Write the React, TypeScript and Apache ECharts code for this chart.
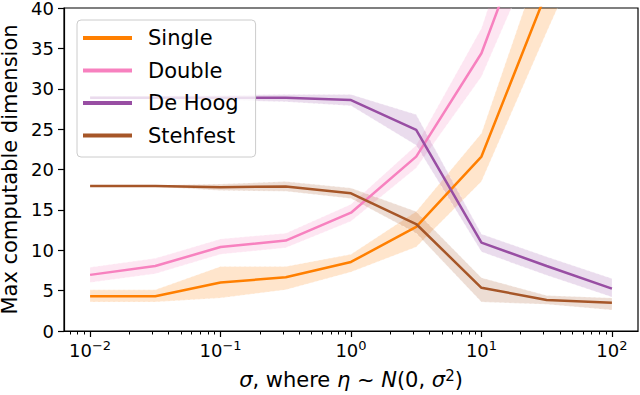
import { useEffect, useRef } from "react";
import * as echarts from "echarts";

const sigmaValues = [0.01, 0.0316, 0.1, 0.316, 1, 3.16, 10, 31.6, 100];

const seriesNames = ["Single", "Double", "De Hoog", "Stehfest"];
const seriesColors = ["#ff7f00", "#f781bf", "#984ea3", "#a65628"];

const singleMean = [4.3, 4.3, 6.0, 6.65, 8.55, 12.9, 21.6, 42, 60];
const singleLow = [3.6, 3.6, 4.1, 5.1, 7.3, 10.4, 18.5, 37, 55];
const singleHigh = [5.1, 5.1, 8.0, 8.0, 9.5, 14.8, 24.5, 48, 66];

const doubleMean = [6.95, 8.05, 10.4, 11.2, 14.65, 21.6, 34.4, 56, 75];
const doubleLow = [6.0, 7.1, 9.5, 10.3, 13.6, 20.2, 31.5, 50, 68];
const doubleHigh = [7.9, 9.0, 11.4, 12.1, 15.7, 23.0, 37.5, 62, 82];

const deHoogMean = [28.9, 28.9, 28.9, 28.9, 28.6, 24.9, 10.95, 8.05, 5.25];
const deHoogLow = [28.7, 28.7, 28.6, 28.4, 27.9, 23.0, 9.8, 6.9, 4.2];
const deHoogHigh = [29.1, 29.1, 29.2, 29.3, 29.3, 26.8, 12.0, 9.2, 6.5];

const stehfestMean = [17.95, 17.95, 17.8, 17.9, 17.05, 13.25, 5.35, 3.85, 3.5];
const stehfestLow = [17.85, 17.85, 17.4, 17.3, 16.4, 12.1, 3.6, 3.3, 2.6];
const stehfestHigh = [18.05, 18.05, 18.2, 18.5, 17.7, 14.8, 6.6, 4.4, 4.1];

const xMajorTicks = [0.01, 0.1, 1, 10, 100];
const yTicks = [0, 5, 10, 15, 20, 25, 30, 35, 40];

const xMin = Math.pow(10, -2.2);
const xMax = Math.pow(10, 2.2);

const minorTicks: number[] = [];
for (let e = -3; e <= 2; e++) {
  for (let m = 2; m <= 9; m++) {
    const v = m * Math.pow(10, e);
    if (v > xMin && v < xMax) minorTicks.push(v);
  }
}

const FONT = "DejaVu Sans";

export default function App() {
  const ref = useRef<HTMLDivElement>(null);
  useEffect(() => {
    if (!ref.current) return;
    document.body.style.margin = "0";
    const chart = echarts.init(ref.current, undefined, { renderer: "svg" });
    const means = [singleMean, doubleMean, deHoogMean, stehfestMean];
    const lows = [singleLow, doubleLow, deHoogLow, stehfestLow];
    const highs = [singleHigh, doubleHigh, deHoogHigh, stehfestHigh];

    const series: any[] = [];
    seriesNames.forEach((name, i) => {
      const data = sigmaValues.map((s, j) => [s, lows[i][j], highs[i][j]]);
      series.push({
        type: "custom",
        name: name + " band",
        data,
        clip: true,
        silent: true,
        z: 1,
        encode: { x: 0, y: [1, 2] },
        renderItem: (params: any, api: any) => {
          if (params.dataIndex !== 0) return null;
          const lowPts = data.map((d) => api.coord([d[0], d[1]]));
          const highPts = data.map((d) => api.coord([d[0], d[2]]));
          const poly = highPts.concat(lowPts.slice().reverse());
          return {
            type: "group",
            children: [
              {
                type: "polygon",
                shape: { points: poly },
                style: { fill: seriesColors[i], opacity: 0.2 },
              },
              {
                type: "polyline",
                shape: { points: lowPts },
                style: { stroke: "#ffffff", lineWidth: 0.8, lineDash: [3, 2], opacity: 0.55, fill: "none" },
              },
              {
                type: "polyline",
                shape: { points: highPts },
                style: { stroke: "#ffffff", lineWidth: 0.8, lineDash: [3, 2], opacity: 0.55, fill: "none" },
              },
            ],
          };
        },
      });
    });
    seriesNames.forEach((name, i) => {
      series.push({
        type: "line",
        name,
        data: sigmaValues.map((s, j) => [s, means[i][j]]),
        symbol: "none",
        lineStyle: { color: seriesColors[i], width: 2.5 },
        itemStyle: { color: seriesColors[i] },
        z: 3,
      });
    });

    const supLabel = (v: number) => {
      const e = Math.round(Math.log10(v));
      const es = e < 0 ? "\u2212" + Math.abs(e) : String(e);
      return `{b|10}{s|${es}}`;
    };

    chart.setOption({
      animation: false,
      textStyle: { fontFamily: FONT },
      grid: {
        left: 64,
        right: 2,
        top: 8,
        bottom: 64,
        outerBoundsMode: "none",
        containLabel: false,
        show: true,
        borderColor: "#000",
        borderWidth: 1.2,
        backgroundColor: "transparent",
      },
      legend: {
        data: seriesNames,
        orient: "vertical",
        left: 77,
        top: 20,
        icon: "rect",
        itemWidth: 49,
        itemHeight: 4,
        itemGap: 8.5,
        padding: [6, 17, 9.5, 6],
        backgroundColor: "rgba(255,255,255,0.8)",
        borderColor: "#cccccc",
        borderWidth: 1,
        borderRadius: 4,
        selectedMode: false,
        textStyle: {
          fontFamily: FONT,
          fontSize: 21,
          lineHeight: 24,
          color: "#000",
          padding: [0, 0, 0, 11],
        },
      },
      xAxis: [
        {
          type: "log",
          logBase: 10,
          min: xMin,
          max: xMax,
          position: "bottom",
          name: "{i|\u03c3}, where {i|\u03b7} ~ {i|N}(0, {i|\u03c3}{s|2})",
          nameLocation: "middle",
          nameGap: 37,
          nameTextStyle: {
            fontFamily: FONT,
            fontSize: 21,
            color: "#000",
            rich: {
              i: { fontFamily: FONT, fontSize: 21, fontStyle: "italic", color: "#000" },
              s: { fontFamily: FONT, fontSize: 15, color: "#000", padding: [0, 0, 9, 0] },
            },
          },
          axisLine: { show: true, lineStyle: { color: "#000", width: 1.2 } },
          axisTick: {
            show: true,
            length: 6,
            inside: false,
            customValues: xMajorTicks,
            lineStyle: { color: "#000", width: 1.2 },
          },
          axisLabel: {
            customValues: xMajorTicks,
            margin: 8,
            formatter: supLabel,
            rich: {
              b: { fontFamily: FONT, fontSize: 18, color: "#000" },
              s: { fontFamily: FONT, fontSize: 13, color: "#000", padding: [0, 0, 9, 0] },
            },
          },
          splitLine: { show: false },
          minorTick: { show: false },
        },
        {
          type: "log",
          logBase: 10,
          min: xMin,
          max: xMax,
          position: "bottom",
          axisLine: { show: false },
          axisTick: {
            show: true,
            length: 3.5,
            customValues: minorTicks,
            lineStyle: { color: "#000", width: 1 },
          },
          axisLabel: { show: false },
          splitLine: { show: false },
        },
      ],
      yAxis: {
        type: "value",
        min: 0,
        max: 40,
        interval: 5,
        name: "Max computable dimension",
        nameLocation: "middle",
        nameGap: 37,
        nameTextStyle: { fontFamily: FONT, fontSize: 21, color: "#000" },
        axisLine: { show: true, lineStyle: { color: "#000", width: 1.2 } },
        axisTick: { show: true, length: 6, lineStyle: { color: "#000", width: 1.2 } },
        axisLabel: {
          margin: 10,
          fontFamily: FONT,
          fontSize: 18,
          color: "#000",
          formatter: (v: number) => (yTicks.includes(v) ? String(v) : ""),
        },
        splitLine: { show: false },
      },
      series,
    });
    return () => chart.dispose();
  }, []);
  return <div ref={ref} style={{ width: 640, height: 395 }} />;
}
